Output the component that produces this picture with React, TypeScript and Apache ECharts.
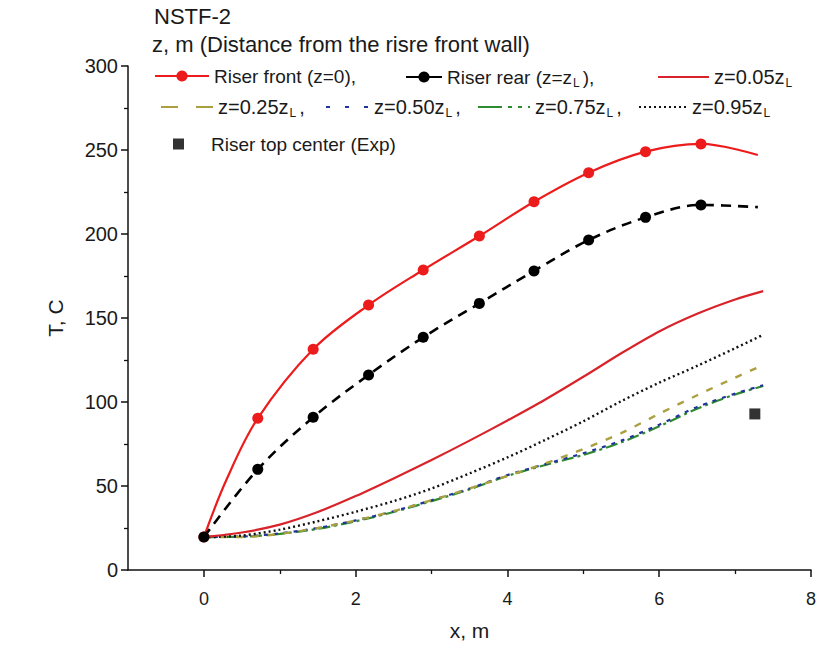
import React, { useEffect, useRef } from 'react';
import * as echarts from 'echarts';

// ---- data ----
const markerX = [0, 0.71, 1.44, 2.17, 2.89, 3.63, 4.35, 5.07, 5.82, 6.55];
const frontY = [19.6, 90.3, 131.4, 157.7, 178.6, 198.8, 219.2, 236.5, 249.0, 253.6];
const frontStart = [0.3, 54];
const frontEnd = [7.3, 247];
const rearY = [19.6, 59.9, 90.9, 116.1, 138.5, 158.7, 178.0, 196.4, 209.9, 217.3];
const rearEnd = [7.3, 216];

const lineX = [0, 0.5, 1, 1.5, 2, 2.5, 3, 3.5, 4, 4.5, 5, 5.5, 6, 6.5, 7, 7.37];
const z05Y = [19.6, 22.3, 27, 34.5, 44, 54.5, 65.5, 77, 89, 101.5, 115, 129, 142, 152.5, 161, 166];
const z25Y = [19.6, 19.6, 21.5, 25, 29.5, 35, 41.5, 48.5, 56, 63.5, 72, 81.5, 93, 104, 114.5, 122];
const z50Y = [19.6, 19.9, 21.8, 25, 29.5, 35, 41.5, 48.5, 56.5, 63, 69.5, 77, 86.5, 97, 105, 110];
const z75Y = [19.6, 19.8, 21.5, 24.5, 29, 34.5, 41, 48, 56, 62.5, 68.5, 76, 85.5, 96, 104.5, 109.5];
const z95Y = [19.6, 20.5, 24, 29, 34.7, 41, 48.5, 57.5, 67, 77.5, 88.5, 100.5, 111.5, 121.5, 132, 140];

const expX = [7.26];
const expY = [92.9];

const seriesNames = [
  'Riser front (z=0),',
  'Riser rear (z=zL),',
  'z=0.05zL',
  'z=0.25zL,',
  'z=0.50zL,',
  'z=0.75zL,',
  'z=0.95zL',
  'Riser top center (Exp)',
];

const yMin = 0;
const yMax = 300;
const yInterval = 50;
const xMin = -1;
const xMax = 8;
const xMajorTicks = [0, 2, 4, 6, 8];
const xMinorTicks = [1, 3, 5, 7];

const titleLine1 = 'NSTF-2';
const titleLine2 = 'z, m (Distance from the risre front wall)';

export default function App() {
  const ref = useRef<HTMLDivElement>(null);
  useEffect(() => {
    const chart = echarts.init(ref.current!, null, { renderer: 'svg' });
    const font = "'Liberation Sans', Arial, sans-serif";
    const txt = '#1a1a1a';
    const pair = (xs: number[], ys: number[]) => xs.map((x, i) => [x, ys[i]]);

    const frontPts = pair(markerX, frontY);
    const frontData: any[] = [
      frontPts[0],
      { value: frontStart, symbol: 'none' },
      ...frontPts.slice(1),
      { value: frontEnd, symbol: 'none' },
    ];
    const rearData: any[] = [...pair(markerX, rearY), { value: rearEnd, symbol: 'none' }];

    const fmt = (name: string) => name.replace(/zL/g, 'z{s|L}');
    const legendText = (size: number, extra: any = {}) => ({
      fontSize: size,
      fontFamily: font,
      color: txt,
      lineHeight: 22,
      rich: {
        s: { fontSize: 12, lineHeight: 10, verticalAlign: 'middle', fontFamily: font, color: txt, padding: [12, 3, 0, 1] },
      },
      ...extra,
    });
    const mkLegend = (name: string, left: number, top: number, itemWidth: number, extra: any = {}) => ({
      data: [name],
      left,
      top,
      itemWidth,
      itemHeight: 14,
      padding: 0,
      itemGap: 0,
      selectedMode: false,
      formatter: fmt,
      textStyle: legendText(19),
      ...extra,
    });
    const noMarker = { itemStyle: { opacity: 0 } };

    const axisColor = '#111';

    chart.setOption({
      animation: false,
      backgroundColor: '#fff',
      title: [
        { text: titleLine1, left: 154, top: 5, padding: 0, textStyle: { fontSize: 22, fontWeight: 'normal', fontFamily: font, color: txt } },
        { text: titleLine2, left: 152, top: 33, padding: 0, textStyle: { fontSize: 22, fontWeight: 'normal', fontFamily: font, color: txt } },
      ],
      legend: [
        mkLegend(seriesNames[0], 154, 65, 54),
        mkLegend(seriesNames[1], 405, 65, 36, { lineStyle: { type: 'solid' } }),
        mkLegend(seriesNames[2], 657, 65, 51, { ...noMarker, textStyle: legendText(20) }),
        mkLegend(seriesNames[3], 160, 95, 52, { ...noMarker, lineStyle: { type: [17, 18] }, textStyle: legendText(20) }),
        mkLegend(seriesNames[4], 325, 95, 43, { ...noMarker, lineStyle: { type: [4, 15] }, textStyle: legendText(20) }),
        mkLegend(seriesNames[5], 477, 95, 52, { ...noMarker, lineStyle: { type: [24, 6, 4, 6, 4, 6] }, textStyle: legendText(20) }),
        mkLegend(seriesNames[6], 638, 95, 48, { ...noMarker, lineStyle: { type: [2, 3] }, textStyle: legendText(20) }),
        mkLegend(seriesNames[7], 173, 133, 11, {
          icon: 'rect',
          itemHeight: 11,
          textStyle: legendText(19, { padding: [0, 0, 0, 22] }),
        }),
      ],
      grid: { left: 128, right: 4, top: 66, bottom: 84, containLabel: false },
      xAxis: [
        {
          type: 'value',
          min: xMin,
          max: xMax,
          position: 'bottom',
          name: 'x, m',
          nameLocation: 'middle',
          nameGap: 50,
          nameTextStyle: { fontSize: 21, fontFamily: font, color: txt },
          axisLine: { show: true, onZero: false, lineStyle: { color: axisColor, width: 1.5 } },
          axisTick: { show: true, inside: false, length: 7, customValues: xMajorTicks, lineStyle: { color: axisColor, width: 1.5 } },
          axisLabel: { show: true, customValues: xMajorTicks, fontSize: 18, fontFamily: font, color: txt, margin: 20 },
          splitLine: { show: false },
        },
        {
          type: 'value',
          min: xMin,
          max: xMax,
          position: 'bottom',
          axisLine: { show: false, onZero: false },
          axisTick: { show: true, inside: false, length: 4, customValues: xMinorTicks, lineStyle: { color: axisColor, width: 1.3 } },
          axisLabel: { show: false },
          splitLine: { show: false },
        },
      ],
      yAxis: {
        type: 'value',
        min: yMin,
        max: yMax,
        interval: yInterval,
        name: 'T, C',
        nameLocation: 'middle',
        nameGap: 62,
        nameTextStyle: { fontSize: 21, fontFamily: font, color: txt },
        axisLine: { show: true, onZero: false, lineStyle: { color: axisColor, width: 1.5 } },
        axisTick: { show: true, inside: false, length: 7, lineStyle: { color: axisColor, width: 1.5 } },
        minorTick: { show: true, splitNumber: 2, length: 4, lineStyle: { color: axisColor, width: 1.3 } },
        axisLabel: { fontSize: 20, fontFamily: font, color: txt, margin: 10 },
        splitLine: { show: false },
      },
      series: [
        {
          type: 'line', name: seriesNames[5], data: pair(lineX, z75Y), smooth: 0.3, symbol: 'none',
          lineStyle: { color: '#2e8b2e', width: 2.2, type: [12, 4, 3, 4] }, itemStyle: { color: '#2e8b2e' },
        },
        {
          type: 'line', name: seriesNames[4], data: pair(lineX, z50Y), smooth: 0.3, symbol: 'none',
          lineStyle: { color: '#22339e', width: 2.2, type: [4, 6] }, itemStyle: { color: '#22339e' },
        },
        {
          type: 'line', name: seriesNames[3], data: pair(lineX, z25Y), smooth: 0.3, symbol: 'none',
          lineStyle: { color: '#aaa040', width: 2.4, type: [7, 9] }, itemStyle: { color: '#aaa040' },
        },
        {
          type: 'line', name: seriesNames[6], data: pair(lineX, z95Y), smooth: 0.3, symbol: 'none',
          lineStyle: { color: '#111', width: 2.4, type: [2, 3] }, itemStyle: { color: '#111' },
        },
        {
          type: 'line', name: seriesNames[2], data: pair(lineX, z05Y), smooth: 0.3, symbol: 'none',
          lineStyle: { color: '#d9232a', width: 2.2 }, itemStyle: { color: '#d9232a' },
        },
        {
          type: 'line', name: seriesNames[0], data: frontData, smooth: 0.35, symbol: 'circle', symbolSize: 11,
          lineStyle: { color: '#ec1c1c', width: 2.2 }, itemStyle: { color: '#ec1c1c' },
        },
        {
          type: 'line', name: seriesNames[1], data: rearData, smooth: 0.35, symbol: 'circle', symbolSize: 11,
          lineStyle: { color: '#000', width: 2.6, type: [10, 7] }, itemStyle: { color: '#000' },
        },
        {
          type: 'scatter', name: seriesNames[7], data: pair(expX, expY), symbol: 'rect', symbolSize: 11,
          itemStyle: { color: '#000' },
        },
      ],
    });
    return () => chart.dispose();
  }, []);
  return <div ref={ref} style={{ position: 'absolute', left: 0, top: 0, width: 819, height: 654 }} />;
}
